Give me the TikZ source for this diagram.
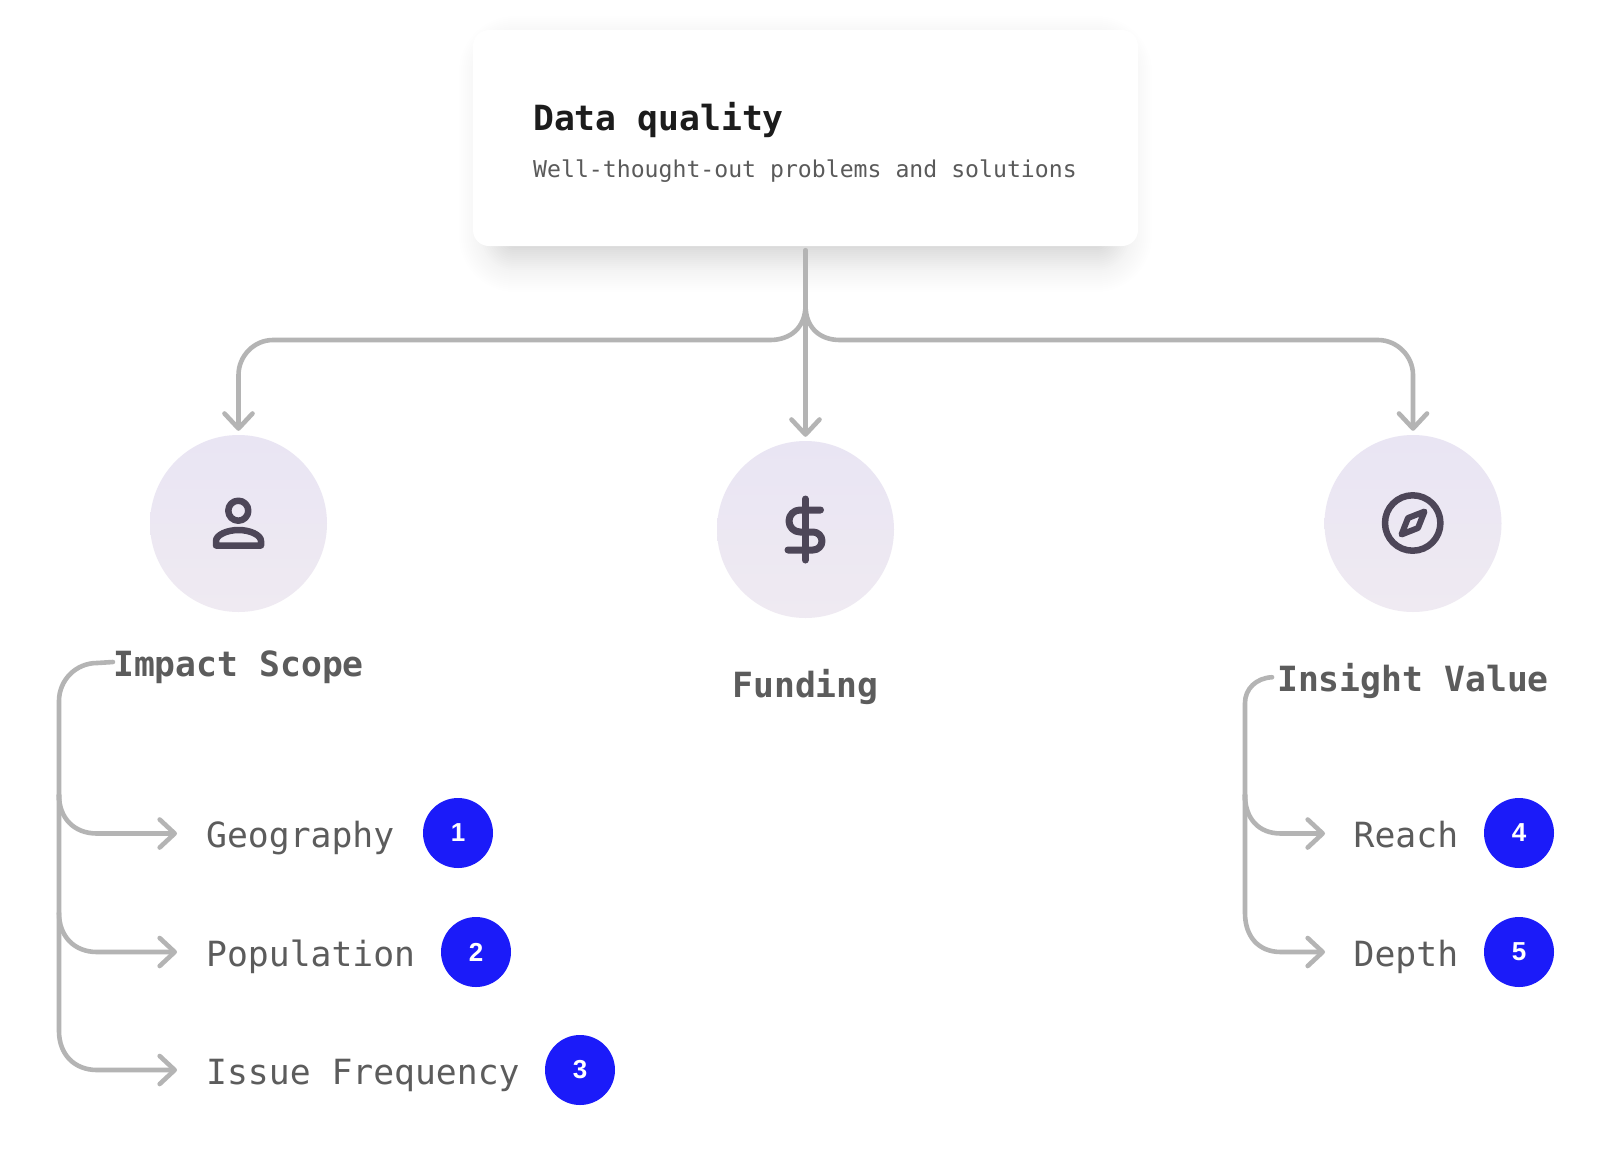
\documentclass[tikz,border=0pt]{standalone}
\usepackage{fontspec}
\setmainfont{DejaVu Sans Mono}
\newfontfamily\numfont{Liberation Sans}
\usetikzlibrary{arrows.meta}
\definecolor{linegrey}{HTML}{B4B4B4}
\definecolor{titleink}{HTML}{1C1C1C}
\definecolor{subink}{HTML}{5A5A5A}
\definecolor{labelink}{HTML}{5C5C5C}
\definecolor{discA}{HTML}{E9E5F3}
\definecolor{discB}{HTML}{EFEAF2}
\definecolor{iconink}{HTML}{4D4658}
\definecolor{badgeblue}{HTML}{1B1BF9}
\definecolor{shadowink}{HTML}{3A3A50}
\tikzset{
  conn/.style={draw=linegrey,line width=4.6pt,line cap=round,line join=round,
    -{Straight Barb[length=15pt,width=28pt,line cap=round,line join=round]}},
  plainconn/.style={draw=linegrey,line width=4.6pt,line cap=round,line join=round},
  card/.style={fill=white,rounded corners=16pt},
  disc/.style={circle,minimum size=177pt,inner sep=0pt,top color=discA,bottom color=discB,draw=none},
  badge/.style={circle,minimum size=70pt,inner sep=0pt,fill=badgeblue,text=white,
    font=\numfont\bfseries\fontsize{26}{30}\selectfont},
  headlabel/.style={inner sep=0pt,text=labelink,text height=34pt,text depth=6pt,
    font=\bfseries\fontsize{34.7}{40}\selectfont},
  itemlabel/.style={inner sep=0pt,anchor=west,text=labelink,text height=34pt,text depth=6pt,
    font=\fontsize{34.7}{40}\selectfont},
  iconline/.style={draw=iconink,line width=6.5pt,line cap=round,line join=round},
}
\begin{document}
\begin{tikzpicture}[x=1pt,y=-1pt]
\useasboundingbox (0,0) rectangle (1610,1152);
\fill[white] (0,0) rectangle (1610,1152);
% card shadow
\foreach \e [evaluate=\e as \o using {0.0012+0.009*(1-(\e+14)/50)},
             evaluate=\e as \r using {26+\e}] in {-14,-12,...,36}{
  \fill[shadowink,opacity=\o,rounded corners=\r pt]
    ({473+16-\e},{30+16-\e}) rectangle ({1138-16+\e},{246+16+\e});
}
\path[card] (473,30) rectangle (1138,246);
\node[inner sep=0pt,minimum width=665pt,minimum height=216pt] (cardbox) at (805.5,138) {};
\node[inner sep=0pt,anchor=base west,text=titleink,font=\bfseries\fontsize{34.7}{40}\selectfont] (title) at (533,130) {Data quality};
\node[inner sep=0pt,anchor=base west,text=subink,font=\fontsize{23.15}{28}\selectfont] (subtitle) at (533,177) {Well-thought-out problems and solutions};

% discs
\node[disc] (impact) at (238.5,523.5) {};
\node[disc] (funding) at (805.5,529.5) {};
\node[disc] (insight) at (1413,523.5) {};

% heading connectors
\coordinate (fork) at (805.5,305);
\draw[conn,shorten <=4pt,shorten >=4pt] (cardbox.south) -- (funding.north);
\draw[conn,shorten >=4pt] (fork) .. controls (805.5,328) and (790,340) .. (770,340) -- (273,340)
   .. controls (254,340) and (238.5,356) .. (238.5,375) -- (impact.north);
\draw[conn,shorten >=4pt] (fork) .. controls (805.5,328) and (820,340) .. (840,340) -- (1378,340)
   .. controls (1397,340) and (1413,356) .. (1413,375) -- (insight.north);

% icons
\draw[iconline] (238.3,510.7) circle (10);
\draw[iconline] (216,545.5) -- (261,545.5) -- (261,541) .. controls (261,535) and (250,530) .. (238.5,530)
   .. controls (227,530) and (216,535) .. (216,541) -- cycle;
\draw[iconline,line width=7pt] (805.3,499) -- (805.3,560);
\draw[iconline,line width=7pt] (820.5,510) -- (800,510) arc[start angle=-90,end angle=-270,radius=11] -- (813,532)
   arc[start angle=-90,end angle=90,radius=9] -- (788,550);
\draw[iconline,line width=6.5pt] (1412.7,523) circle (27.7);
\draw[iconline,line width=6pt] (1424.5,511.5) -- (1408,518) -- (1401.5,534.5) -- (1418,528) -- cycle;

% headings
\node[headlabel] (lImpact) at (238.5,662) {Impact Scope};
\node[headlabel] (lFunding) at (805.5,683) {Funding};
\node[headlabel] (lInsight) at (1413,677) {Insight Value};

% items
\node[itemlabel] (lGeo) at (206,833.5) {Geography};
\node[itemlabel] (lPop) at (206,952) {Population};
\node[itemlabel] (lIssue) at (206,1070) {Issue Frequency};
\node[itemlabel] (lReach) at (1353.5,833.5) {Reach};
\node[itemlabel] (lDepth) at (1353.5,952) {Depth};

% badges
\node[badge] (b1) at (458,833) {1};
\node[badge] (b2) at (476,952) {2};
\node[badge] (b3) at (580,1070) {3};
\node[badge] (b4) at (1519,833) {4};
\node[badge] (b5) at (1519,952) {5};

% left bracket
\draw[plainconn] (lImpact.west) -- (97,663) .. controls (76,663) and (59,680) .. (59,701) -- (59,800);
\draw[conn,shorten >=29pt] (59,795) .. controls (59,818) and (74,833.5) .. (97,833.5) -- (lGeo.west);
\draw[conn,shorten >=29pt] (59,795) -- (59,913) .. controls (59,936) and (74,952) .. (97,952) -- (lPop.west);
\draw[conn,shorten >=29pt] (59,913) -- (59,1031) .. controls (59,1054) and (74,1070) .. (97,1070) -- (lIssue.west);

% right bracket
\draw[plainconn,shorten <=5pt] (lInsight.west) .. controls (1256,678) and (1245,689) .. (1245,703) -- (1245,800);
\draw[conn,shorten >=28.5pt] (1245,795) .. controls (1245,818) and (1258,833.5) .. (1281,833.5) -- (lReach.west);
\draw[conn,shorten >=28.5pt] (1245,795) -- (1245,913) .. controls (1245,936) and (1258,952) .. (1281,952) -- (lDepth.west);
\end{tikzpicture}
\end{document}
